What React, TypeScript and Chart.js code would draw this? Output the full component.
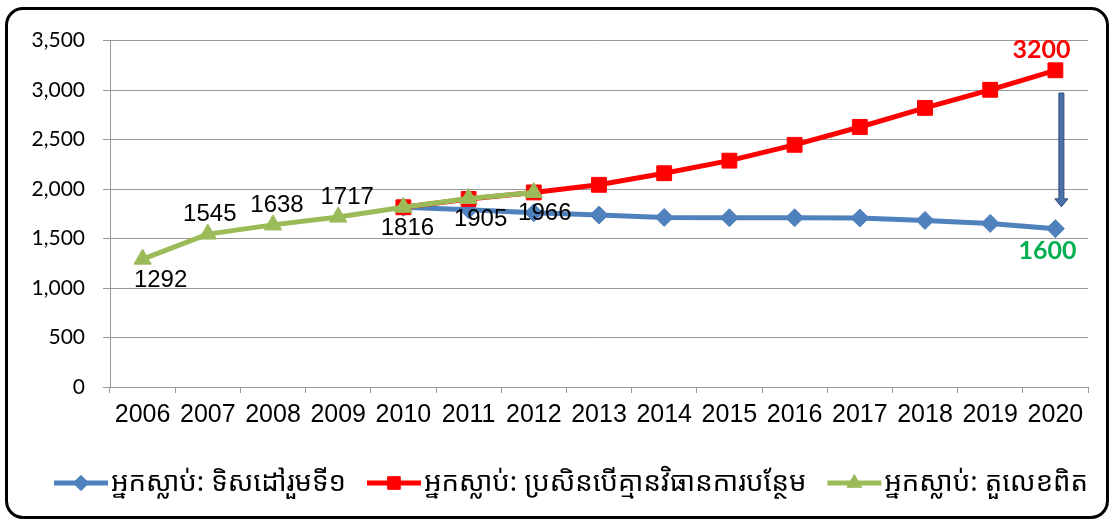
import React, { useEffect, useRef } from "react";
import { Chart, registerables } from "chart.js";
import { drawPoint } from "chart.js/helpers";

Chart.register(...registerables);

const YEARS = ["2006", "2007", "2008", "2009", "2010", "2011", "2012", "2013", "2014", "2015", "2016", "2017", "2018", "2019", "2020"];
const TARGET_DEATHS = [null, null, null, null, 1816, 1790, 1760, 1737, 1713, 1710, 1710, 1708, 1683, 1653, 1600];
const NO_ACTION_DEATHS = [null, null, null, null, 1816, 1900, 1966, 2043, 2160, 2287, 2447, 2627, 2820, 3003, 3200];
const ACTUAL_DEATHS = [1292, 1545, 1638, 1717, 1816, 1905, 1966, null, null, null, null, null, null, null, null];
const SERIES_NAMES = [
  "អ្នកស្លាប់: ទិសដៅរួមទី១",
  "អ្នកស្លាប់: ប្រសិនបើគ្មានវិធានការបន្ថែម",
  "អ្នកស្លាប់: តួលេខពិត",
];
const ACTUAL_LABEL_SIDE = ["below", "above", "above", "above", "below", "below", "below"];
const Y_MIN = 0;
const Y_MAX = 3500;
const Y_STEP = 500;
const ARROW_FROM = 2970;
const ARROW_TO = 1820;

const BLUE = "#4F81BD";
const RED = "#FF0000";
const GREEN = "#9BBB59";

// horizontal nudges of the "actual" data labels (layout only)
const LABEL_NUDGE = [18, 2, 4, 9, 4, 12, 11];

const dataLabelPlugin = {
  id: "dataLabels",
  afterDatasetsDraw(chart: any) {
    const ctx = chart.ctx;
    ctx.save();
    ctx.textAlign = "center";
    ctx.textBaseline = "middle";
    const gMeta = chart.getDatasetMeta(2);
    ctx.font = '24px "Liberation Sans", Arial, sans-serif';
    ctx.fillStyle = "#000";
    ACTUAL_DEATHS.forEach((v, i) => {
      if (v == null) return;
      const p = gMeta.data[i];
      const side = ACTUAL_LABEL_SIDE[i];
      const dy = side === "above" ? -20 : 21;
      ctx.fillText(String(v), p.x + (LABEL_NUDGE[i] || 0), p.y + dy);
    });
    const last = YEARS.length - 1;
    const rMeta = chart.getDatasetMeta(1);
    const bMeta = chart.getDatasetMeta(0);
    ctx.font = 'bold 25px Lato, "Open Sans", sans-serif';
    ctx.fillStyle = RED;
    const rp = rMeta.data[last];
    ctx.fillText(String(NO_ACTION_DEATHS[last]), rp.x - 14, rp.y - 20);
    ctx.fillStyle = "#00B050";
    const bp = bMeta.data[last];
    ctx.fillText(String(TARGET_DEATHS[last]), bp.x - 8, bp.y + 22);
    ctx.restore();
  },
};

const arrowPlugin = {
  id: "arrow",
  afterDatasetsDraw(chart: any) {
    const ctx = chart.ctx;
    const ys = chart.scales.y;
    const xs = chart.scales.x;
    const x = xs.getPixelForValue(YEARS.length - 1) + 6;
    const y1 = ys.getPixelForValue(ARROW_FROM);
    const y2 = ys.getPixelForValue(ARROW_TO);
    const sw = 2.5;
    const hw = 6.5;
    const hh = 8;
    ctx.save();
    ctx.beginPath();
    ctx.moveTo(x - sw, y1);
    ctx.lineTo(x + sw, y1);
    ctx.lineTo(x + sw, y2 - hh);
    ctx.lineTo(x + hw, y2 - hh);
    ctx.lineTo(x, y2);
    ctx.lineTo(x - hw, y2 - hh);
    ctx.lineTo(x - sw, y2 - hh);
    ctx.closePath();
    ctx.fillStyle = "#4A72A8";
    ctx.fill();
    ctx.strokeStyle = "#2E4C7A";
    ctx.lineWidth = 1;
    ctx.stroke();
    ctx.restore();
  },
};

const legendPlugin = {
  id: "customLegend",
  afterDraw(chart: any) {
    const ctx = chart.ctx;
    ctx.save();
    ctx.font = '27.5px "Noto Sans Khmer", "Khmer OS", "Noto Sans", sans-serif';
    const lineW = 54;
    const gap = 3;
    const itemGap = 21;
    const ds = chart.data.datasets;
    const widths = ds.map((d: any) => lineW + gap + ctx.measureText(d.label).width);
    const total = widths.reduce((a: number, b: number) => a + b, 0) + itemGap * (ds.length - 1);
    let x = 563 - total / 2;
    const y = 473;
    ds.forEach((d: any, i: number) => {
      ctx.strokeStyle = d.borderColor;
      ctx.lineWidth = 5;
      ctx.beginPath();
      ctx.moveTo(x, y);
      ctx.lineTo(x + lineW, y);
      ctx.stroke();
      ctx.fillStyle = d.backgroundColor;
      ctx.strokeStyle = d.borderColor;
      ctx.lineWidth = 1;
      drawPoint(ctx, { pointStyle: d.pointStyle, radius: d.pointRadius * 0.85, rotation: 0, borderWidth: 1 }, x + lineW / 2, y);
      ctx.fillStyle = "#000";
      ctx.textAlign = "left";
      ctx.textBaseline = "middle";
      ctx.fillText(d.label, x + lineW + gap, y);
      x += widths[i] + itemGap;
    });
    ctx.restore();
  },
};

function ChartView() {
  const ref = useRef<HTMLCanvasElement | null>(null);
  useEffect(() => {
    if (!ref.current) return;
    const chart = new Chart(ref.current, {
      type: "line",
      data: {
        labels: YEARS,
        datasets: [
          {
            label: SERIES_NAMES[0],
            data: TARGET_DEATHS,
            borderColor: BLUE,
            backgroundColor: BLUE,
            borderWidth: 5,
            pointStyle: "rectRot",
            pointRadius: 9,
            pointBorderWidth: 1,
            order: 3,
          },
          {
            label: SERIES_NAMES[1],
            data: NO_ACTION_DEATHS,
            borderColor: RED,
            backgroundColor: RED,
            borderWidth: 5,
            pointStyle: "rect",
            pointRadius: 10.5,
            pointBorderWidth: 1,
            order: 2,
          },
          {
            label: SERIES_NAMES[2],
            data: ACTUAL_DEATHS,
            borderColor: GREEN,
            backgroundColor: GREEN,
            borderWidth: 5,
            pointStyle: "triangle",
            pointRadius: 10,
            pointBorderWidth: 1,
            order: 1,
          },
        ],
      },
      options: {
        responsive: false,
        animation: false,
        layout: { padding: { left: 0, right: 18, top: 21, bottom: 89 } },
        plugins: { legend: { display: false }, tooltip: { enabled: false } },
        scales: {
          x: {
            type: "category",
            offset: true,
            grid: { offset: true, drawOnChartArea: false, drawTicks: true, tickLength: 6, color: "#999", lineWidth: 1 },
            border: { color: "#999", width: 1 },
            ticks: {
              color: "#000",
              font: { family: '"Liberation Sans", Arial, sans-serif', size: 25 },
              padding: 7,
              maxRotation: 0,
              autoSkip: false,
            },
            afterFit(s: any) {
              s.height = 40;
            },
          },
          y: {
            min: Y_MIN,
            max: Y_MAX,
            ticks: {
              stepSize: Y_STEP,
              color: "#000",
              font: { family: 'Lato, "Open Sans", sans-serif', size: 21 },
              padding: 18,
              callback: (v: any) => Number(v).toLocaleString("en-US"),
            },
            grid: { color: "#999", lineWidth: 1, tickLength: 7 },
            border: { color: "#999", width: 1 },
            afterFit(s: any) {
              s.width = 102;
            },
          },
        },
      },
      plugins: [dataLabelPlugin, arrowPlugin, legendPlugin],
    } as any);
    return () => chart.destroy();
  }, []);
  return <canvas ref={ref} width={1098} height={506} style={{ display: "block" }} />;
}

export default function App() {
  return (
    <div
      style={{
        position: "absolute",
        left: 5,
        top: 7,
        width: 1104,
        height: 512,
        boxSizing: "border-box",
        border: "3px solid #000",
        borderRadius: 18,
        background: "#fff",
        overflow: "hidden",
      }}
    >
      <ChartView />
    </div>
  );
}
